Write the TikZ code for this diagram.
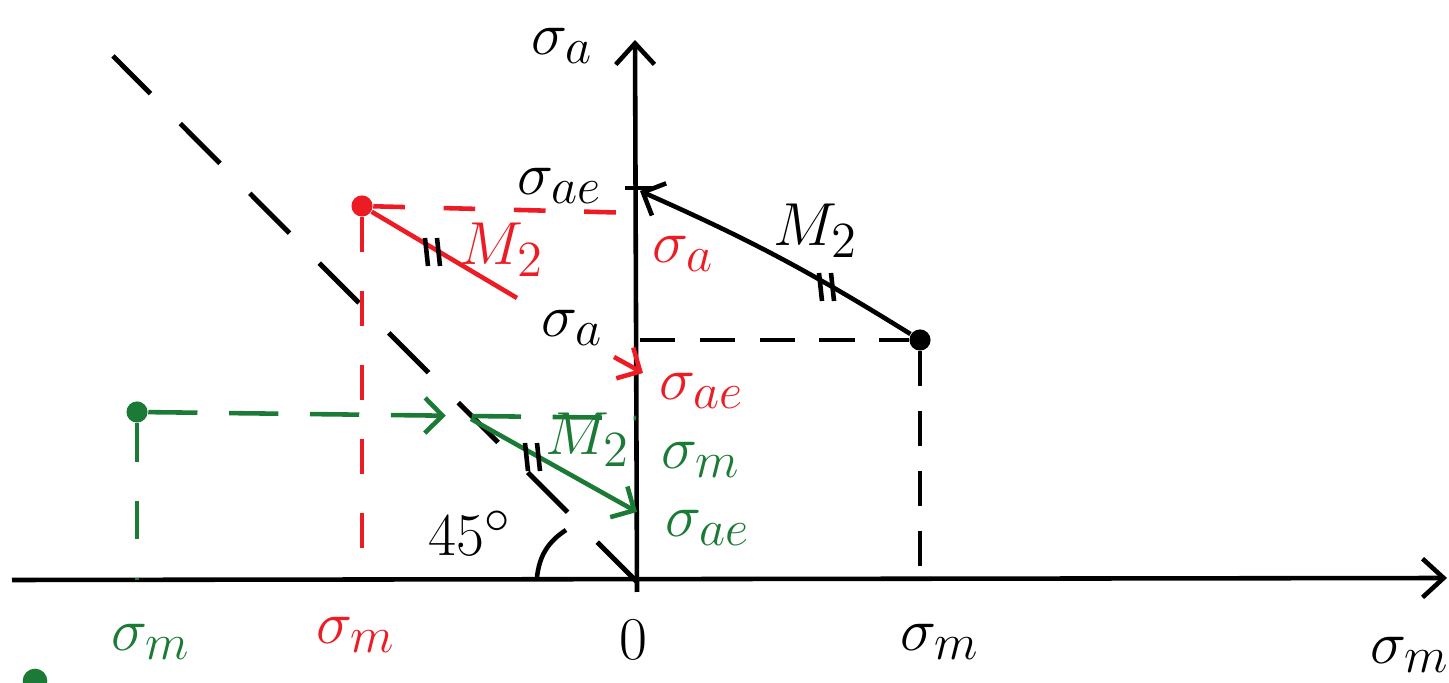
\documentclass[tikz,border=0pt]{standalone}
\usepackage{amsmath}
\usepackage{xcolor}
\usetikzlibrary{arrows.meta, positioning, decorations.markings}
\definecolor{skred}{HTML}{ED1C24}
\definecolor{skgreen}{HTML}{1B7B36}

\begin{document}
\begin{tikzpicture}[
  x=0.01cm, y=-0.01cm,
  lbl/.style={font=\fontsize{19}{23}\selectfont, inner sep=1pt},
  axis/.style={-{Straight Barb[length=6pt,width=11pt]}, line width=1.3pt},
  arr/.style={-{Straight Barb[length=5pt,width=10pt]}, line width=1.3pt},
  guide/.style={line width=1.3pt, dash pattern=on 10pt off 7pt},
  diag/.style={line width=1.4pt, dash pattern=on 16pt off 12pt},
  dot/.style={circle, fill, inner sep=0pt, minimum size=6pt},
  partick/.style={line width=1.3pt},
  midarr/.style={postaction={decorate, decoration={markings, mark=at position 0.61 with {\arrow{Straight Barb[length=5pt,width=10pt]}}}}}
]
  \useasboundingbox (0,0) rectangle (1449,683);
  \coordinate (O) at (637,582);
  \coordinate (xl) at (12,580);
  \coordinate (xr) at (1447,578);
  \coordinate (yb) at (637,592);
  \coordinate (yt) at (635,40);
  \draw[axis] (xl) -- (xr);
  \draw[axis] (yb) -- (yt);
  \node[lbl] (sa) at (562,46) {$\sigma_a$};
  \node[lbl] (sm) at (1410,655) {$\sigma_m$};
  \node[lbl] (zero) at (633,640) {$0$};

  \coordinate (dg) at (113,56);
  \draw[diag] (O) -- (dg);
  \coordinate (a1) at (537,577);
  \coordinate (a2) at (566,530);
  \draw[partick] (a1) to[bend left=25] (a2);
  \node[lbl] (ang) at (470,533) {$45^\circ$};

  \node[dot] (B) at (920,340) {};
  \coordinate (Ba) at (640,340);
  \coordinate (Bm) at (920,580);
  \coordinate (Bae) at (640,191);
  \coordinate (t1) at (625,188);
  \coordinate (t2) at (652,188);
  \draw[guide] (Ba) -- (B);
  \draw[guide] (B) -- (Bm);
  \draw[partick] (t1) -- (t2);
  \draw[arr] (B) to[bend right=4] (Bae);
  \node[lbl] (bsa) at (572,328) {$\sigma_a$};
  \node[lbl] (bsae) at (560,186) {$\sigma_{ae}$};
  \node[lbl] (bsm) at (940,642) {$\sigma_m$};
  \node[lbl] (bM) at (816,231) {$M_2$};

  \node[dot, skred] (R) at (362,206) {};
  \coordinate (Ra) at (637,213);
  \coordinate (Rm) at (362,580);
  \coordinate (Re) at (517,298);
  \coordinate (rs) at (614,357);
  \coordinate (rt) at (643,373);
  \draw[guide, skred, dash pattern=on 9pt off 11pt] (R) -- (Ra);
  \draw[guide, skred, dash pattern=on 10pt off 11pt] (R) -- (Rm);
  \draw[partick, skred] (R) -- (Re);
  \draw[arr, skred] (rs) -- (rt);
  \node[lbl, skred] (rM) at (502,250) {$M_2$};
  \node[lbl, skred] (rsa) at (683,254) {$\sigma_a$};
  \node[lbl, skred] (rsae) at (702,391) {$\sigma_{ae}$};
  \node[lbl, skred] (rsm) at (356,635) {$\sigma_m$};

  \node[dot, skgreen] (G) at (137,412) {};
  \coordinate (Ga) at (636,418);
  \coordinate (Gm) at (137,580);
  \coordinate (gs) at (471,419);
  \coordinate (gt) at (637,512);
  \draw[guide, skgreen, dash pattern=on 14pt off 9pt, midarr] (G) -- (Ga);
  \draw[guide, skgreen, dash pattern=on 11pt off 11pt] (G) -- (Gm);
  \draw[arr, skgreen] (gs) -- (gt);
  \node[lbl, skgreen] (gM) at (588,440) {$M_2$};
  \node[lbl, skgreen] (gsm) at (701,460) {$\sigma_m$};
  \node[lbl, skgreen] (gsae) at (708,528) {$\sigma_{ae}$};
  \node[lbl, skgreen] (gsm2) at (151,642) {$\sigma_m$};
  \node[dot, skgreen, minimum size=7pt] (gd) at (35,681) {};

  \foreach \tx/\ty in {826/287, 432/252, 532/457}
    \draw[partick] (\tx-7,\ty-14) -- (\tx-4,\ty+14) (\tx+5,\ty-14) -- (\tx+8,\ty+14);
\end{tikzpicture}
\end{document}
